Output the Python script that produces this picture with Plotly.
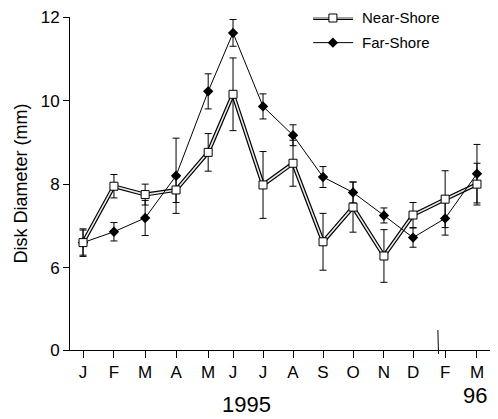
import plotly.graph_objects as go

# ---- data ----
month_labels = ["J", "F", "M", "A", "M", "J", "J", "A", "S", "O", "N", "D", "F", "M"]
# sampling time in months from Jan 1995 (Jan 96 omitted by axis break)
sample_month = [0, 1.02, 2.05, 3.07, 4.13, 4.95, 5.94, 6.93, 7.92, 8.91, 9.93, 10.89, 11.95, 13.0]

near_shore = [6.60, 7.95, 7.75, 7.86, 8.76, 10.15, 7.98, 8.50, 6.62, 7.45, 6.28, 7.26, 7.64, 8.00]
near_err = [0.33, 0.28, 0.25, 0.30, 0.45, 0.87, 0.80, 0.55, 0.68, 0.60, 0.63, 0.30, 0.68, 0.50]

far_shore = [6.60, 6.86, 7.19, 8.20, 10.22, 11.62, 9.86, 9.17, 8.17, 7.80, 7.25, 6.72, 7.18, 8.25]
far_err = [0.30, 0.22, 0.42, 0.90, 0.42, 0.32, 0.30, 0.25, 0.25, 0.25, 0.18, 0.23, 0.40, 0.70]

y_tick_vals = [4.03, 6, 8, 10, 12]
y_tick_text = ["0", "6", "8", "10", "12"]

FONT = "Liberation Sans, Arial, Helvetica, sans-serif"

fig = go.Figure()

# Near-shore double line (black outline, white core)
fig.add_trace(go.Scatter(x=sample_month, y=near_shore, mode="lines",
                         line=dict(color="black", width=4), showlegend=False, hoverinfo="skip"))
fig.add_trace(go.Scatter(x=sample_month, y=near_shore, mode="lines",
                         line=dict(color="#e8e8e8", width=1.6), showlegend=False, hoverinfo="skip"))

# Far-shore
fig.add_trace(go.Scatter(x=sample_month, y=far_shore, mode="lines+markers",
                         line=dict(color="black", width=1),
                         marker=dict(symbol="diamond", size=8, color="black"),
                         error_y=dict(type="data", array=far_err, color="black", thickness=1, width=3.5),
                         showlegend=False))

# Near-shore markers
fig.add_trace(go.Scatter(x=sample_month, y=near_shore, mode="markers",
                         marker=dict(symbol="square", size=8, color="white",
                                     line=dict(color="black", width=1)),
                         error_y=dict(type="data", array=near_err, color="black", thickness=1, width=3.5),
                         showlegend=False))

# ---- manual legend on overlay axes (paper-like 0..1) ----
fig.add_trace(go.Scatter(x=[0.579, 0.674], y=[0.997, 0.997], xaxis="x2", yaxis="y2", mode="lines",
                         line=dict(color="black", width=4), showlegend=False, hoverinfo="skip", cliponaxis=False))
fig.add_trace(go.Scatter(x=[0.579, 0.674], y=[0.997, 0.997], xaxis="x2", yaxis="y2", mode="lines",
                         line=dict(color="#d8d8d8", width=1.6), showlegend=False, hoverinfo="skip", cliponaxis=False))
fig.add_trace(go.Scatter(x=[0.626], y=[0.997], xaxis="x2", yaxis="y2", mode="markers",
                         marker=dict(symbol="square", size=8, color="white", line=dict(color="black", width=1)),
                         showlegend=False, hoverinfo="skip", cliponaxis=False))
fig.add_trace(go.Scatter(x=[0.579, 0.674], y=[0.923, 0.923], xaxis="x2", yaxis="y2", mode="lines+markers",
                         line=dict(color="black", width=1),
                         marker=dict(symbol="diamond", size=[0, 0], color="black"),
                         showlegend=False, hoverinfo="skip", cliponaxis=False))
fig.add_trace(go.Scatter(x=[0.626], y=[0.923], xaxis="x2", yaxis="y2", mode="markers",
                         marker=dict(symbol="diamond", size=8, color="black"),
                         showlegend=False, hoverinfo="skip", cliponaxis=False))

fig.add_annotation(x=0.69, y=0.997, xref="paper", yref="paper", text="Near-Shore", showarrow=False,
                   xanchor="left", yanchor="middle", font=dict(family=FONT, size=15, color="black"))
fig.add_annotation(x=0.69, y=0.923, xref="paper", yref="paper", text="Far-Shore", showarrow=False,
                   xanchor="left", yanchor="middle", font=dict(family=FONT, size=15, color="black"))

# year labels
fig.add_annotation(x=0.421, y=-0.164, xref="paper", yref="paper", text="1995", showarrow=False,
                   xanchor="center", yanchor="middle", font=dict(family=FONT, size=22, color="black"))
fig.add_annotation(x=0.964, y=-0.137, xref="paper", yref="paper", text="96", showarrow=False,
                   xanchor="center", yanchor="middle", font=dict(family=FONT, size=22, color="black"))

# x-axis break mark
fig.add_shape(type="line", xref="x", yref="paper", x0=11.71, x1=11.73, y0=0.06, y1=-0.012,
              line=dict(color="black", width=1))

fig.update_layout(
    width=498, height=419,
    margin=dict(l=70, r=8, t=14, b=69),
    paper_bgcolor="white", plot_bgcolor="white",
    font=dict(family=FONT, color="black"),
    showlegend=False,
    xaxis=dict(range=[-0.43, 13.43], tickmode="array", tickvals=sample_month, ticktext=month_labels,
               showline=True, linecolor="black", linewidth=1, ticks="outside", ticklen=7,
               tickcolor="black", tickwidth=1, showgrid=False, zeroline=False,
               tickfont=dict(family=FONT, size=17, color="black")),
    yaxis=dict(range=[4.03, 12], tickmode="array", tickvals=y_tick_vals, ticktext=y_tick_text,
               showline=True, linecolor="black", linewidth=1, ticks="outside", ticklen=6,
               tickcolor="black", tickwidth=1, showgrid=False, zeroline=False,
               tickfont=dict(family=FONT, size=17, color="black"),
               title=dict(text="Disk Diameter (mm)", font=dict(family=FONT, size=18, color="black"),
                          standoff=8)),
    xaxis2=dict(range=[0, 1], overlaying="x", visible=False, fixedrange=True),
    yaxis2=dict(range=[0, 1], overlaying="y", visible=False, fixedrange=True),
)

fig.write_html("out.html")
